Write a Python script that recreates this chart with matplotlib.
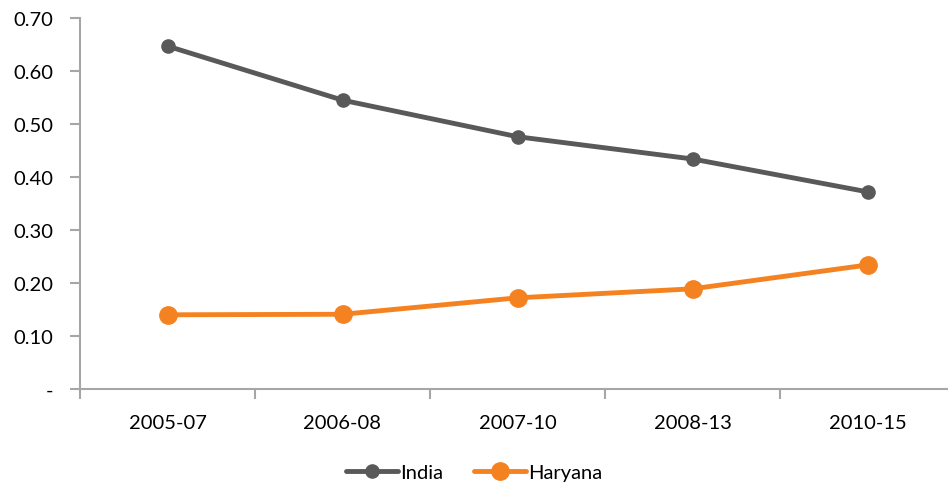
import matplotlib.pyplot as plt
import numpy as np

periods = ['2005-07', '2006-08', '2007-10', '2008-13', '2010-15']
india = [0.647, 0.545, 0.476, 0.434, 0.372]
haryana = [0.140, 0.141, 0.172, 0.189, 0.234]

plt.rcParams['font.family'] = ['Lato', 'DejaVu Sans']

fig = plt.figure(figsize=(9.48, 4.89), dpi=100)
ax = fig.add_axes([80 / 948, 99 / 489, 875 / 948, 371 / 489])

x = np.arange(len(periods))
ax.plot(x, india, color='#595959', lw=3.5, marker='o', ms=9.5, label='India', solid_capstyle='round')
ax.plot(x, haryana, color='#F58220', lw=3.5, marker='o', ms=12.5, label='Haryana', solid_capstyle='round')

ax.set_xlim(-0.5, len(periods) - 0.5)
ax.set_ylim(0, 0.70)
yt = np.arange(0, 0.71, 0.1)
ax.set_yticks(yt)
ax.set_yticklabels(['-'] + ['%.2f' % v for v in yt[1:]])
ax.set_xticks(x)
ax.set_xticklabels(periods)
ax.set_xticks(np.arange(-0.5, len(periods), 1), minor=True)

for s in ['top', 'right']:
    ax.spines[s].set_visible(False)
for s in ['left', 'bottom']:
    ax.spines[s].set_color('#A6A6A6')
    ax.spines[s].set_linewidth(1.5)

ax.tick_params(axis='y', length=7, width=1.5, color='#A6A6A6', labelsize=14.5, pad=12)
ax.tick_params(axis='x', which='major', length=0, labelsize=14.5, pad=18)
ax.tick_params(axis='x', which='minor', length=7, width=1.5, color='#A6A6A6')

fig.legend(loc='center', bbox_to_anchor=(0.5, 16 / 489), ncol=2, frameon=False,
           fontsize=14.5, handlelength=2.6, columnspacing=1.5, handletextpad=0.1)

fig.savefig('out.png', dpi=100)
